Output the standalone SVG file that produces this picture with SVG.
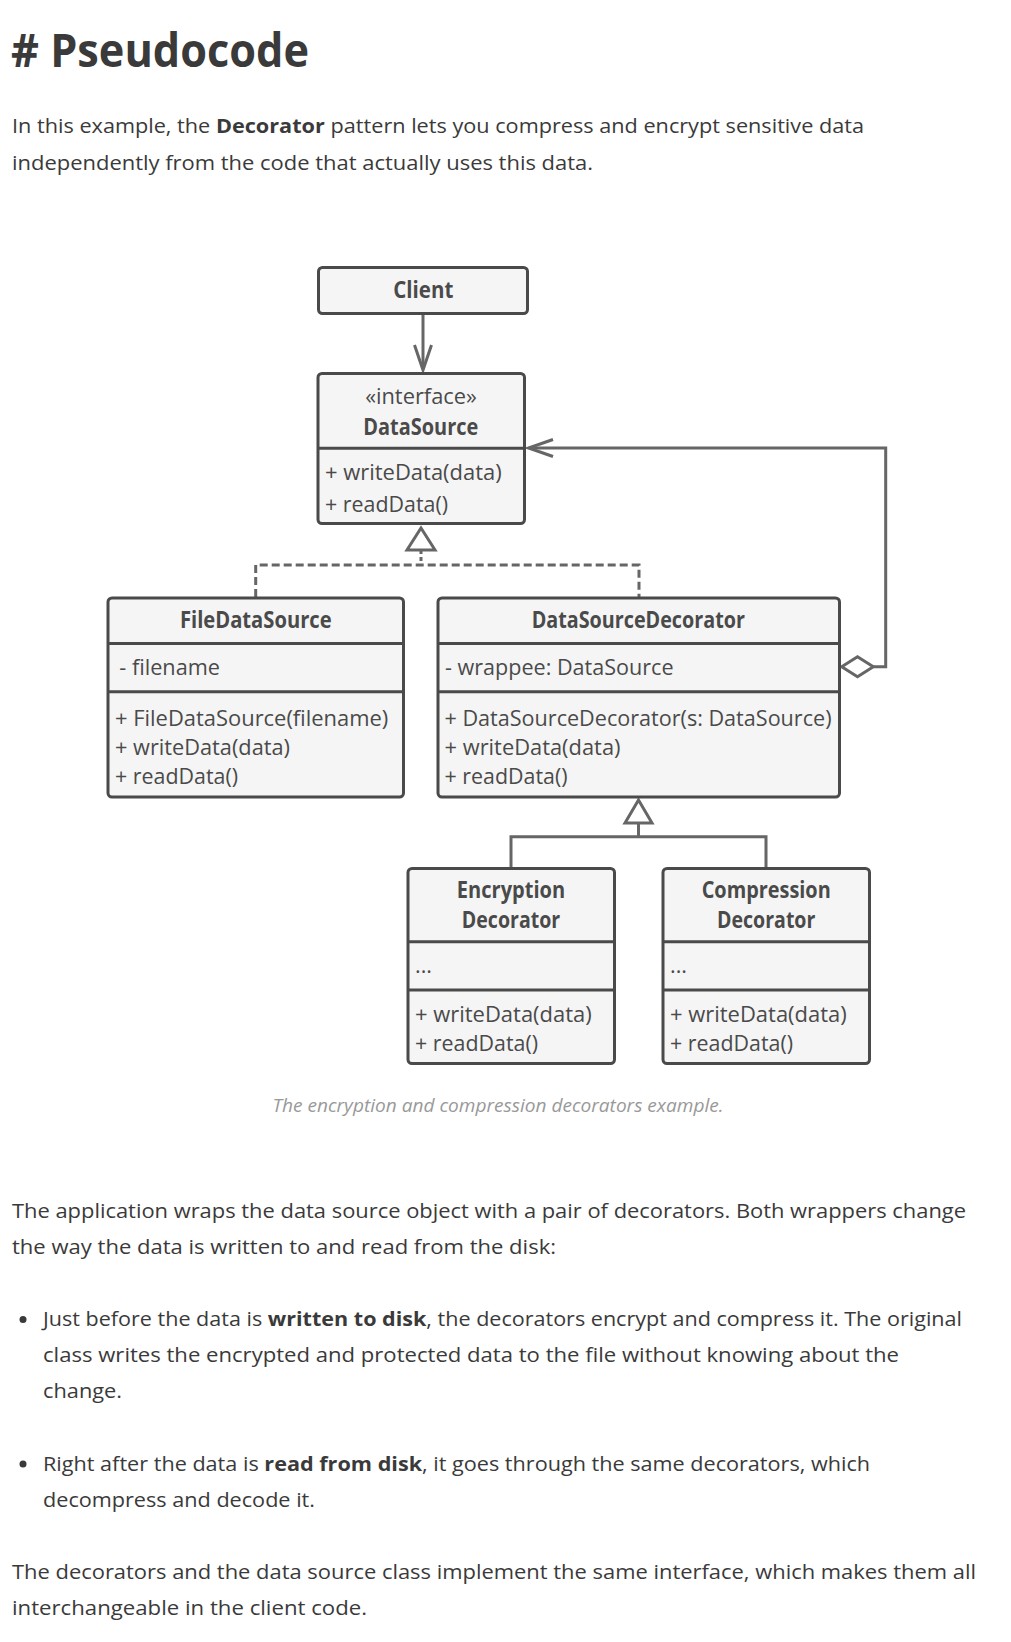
<svg xmlns="http://www.w3.org/2000/svg" width="1011" height="1642" viewBox="0 0 1011 1642">
<defs>
<style>
.body{font-family:"Open Sans","Noto Sans","DejaVu Sans",sans-serif;font-size:20px;fill:#3a3a3a}
.b{font-weight:700}
.title{font-family:"Open Sans","Noto Sans","DejaVu Sans",sans-serif;font-size:46px;font-weight:700;fill:#3a3a3a}
.box{fill:#f5f5f5;stroke:#4a4a4a;stroke-width:3}
.div{stroke:#4a4a4a;stroke-width:3}
.t{font-family:"Open Sans","Noto Sans","DejaVu Sans",sans-serif;font-size:21.5px;fill:#4a4a4a}
.h{font-weight:700;text-anchor:middle;font-size:23px}
.ln{fill:none;stroke:#666;stroke-width:3}
.dash{fill:none;stroke:#666;stroke-width:3;stroke-dasharray:8 4}
.cap{font-family:"Open Sans","Noto Sans","DejaVu Sans",sans-serif;font-size:18px;font-style:italic;fill:#999}
</style>
</defs>
<rect width="1011" height="1642" fill="#fff"/>
<text class="title" x="11" y="67" textLength="298" lengthAdjust="spacingAndGlyphs"># Pseudocode</text>
<text class="body" x="12" y="133" textLength="852" lengthAdjust="spacingAndGlyphs">In this example, the <tspan class="b">Decorator</tspan> pattern lets you compress and encrypt sensitive data</text>
<text class="body" x="12" y="169.5" textLength="581" lengthAdjust="spacingAndGlyphs">independently from the code that actually uses this data.</text>

<g id="connectors">
<path class="ln" d="M423 315V369"/>
<path class="ln" d="M414.5 345L423 370L431.5 345"/>
<path class="ln" d="M421 550V565" stroke-dasharray="4 3"/>
<path class="dash" d="M255.7 597V565H639V597"/>
<path class="ln" d="M421 528L435 550H407Z" fill="#fff"/>
<path class="ln" d="M873.3 666.7H885.7V448H529"/>
<path class="ln" d="M553 439.5L528.5 448L553 456.5"/>
<path class="ln" d="M841.7 666.7L857.5 656.7L873.3 666.7L857.5 676.7Z" fill="#fff"/>
<path class="ln" d="M638.5 823V836.7M511 867V836.7H766V867"/>
<path class="ln" d="M638.5 800L652 823H625Z" fill="#fff"/>
</g>

<g id="client">
<rect class="box" x="318.5" y="267.5" width="209" height="46" rx="4"/>
<text class="t h" x="423.3" y="298.3" textLength="60" lengthAdjust="spacingAndGlyphs">Client</text>
</g>

<g id="datasource">
<rect class="box" x="318" y="373.5" width="206.5" height="150" rx="4"/>
<path class="div" d="M318 448.3H524.5"/>
<text class="t" x="421" y="404" text-anchor="middle" textLength="111.7" lengthAdjust="spacingAndGlyphs">«interface»</text>
<text class="t h" x="420.8" y="435" textLength="115" lengthAdjust="spacingAndGlyphs">DataSource</text>
<text class="t" x="325" y="480" textLength="176.7" lengthAdjust="spacingAndGlyphs">+ writeData(data)</text>
<text class="t" x="325" y="511.7" textLength="123" lengthAdjust="spacingAndGlyphs">+ readData()</text>
</g>

<g id="filedatasource">
<rect class="box" x="108" y="598" width="295.5" height="199" rx="4"/>
<path class="div" d="M108 643.5H403.5M108 691.7H403.5"/>
<text class="t h" x="255.8" y="628.3" textLength="151.7" lengthAdjust="spacingAndGlyphs">FileDataSource</text>
<text class="t" x="119.3" y="675" textLength="100.7" lengthAdjust="spacingAndGlyphs">- filename</text>
<text class="t" x="115" y="725.5" textLength="273.3" lengthAdjust="spacingAndGlyphs">+ FileDataSource(filename)</text>
<text class="t" x="115" y="755" textLength="175" lengthAdjust="spacingAndGlyphs">+ writeData(data)</text>
<text class="t" x="115" y="784.3" textLength="123" lengthAdjust="spacingAndGlyphs">+ readData()</text>
</g>

<g id="datasourcedecorator">
<rect class="box" x="438" y="598" width="401.5" height="199" rx="4"/>
<path class="div" d="M438 643.5H839.5M438 691.7H839.5"/>
<text class="t h" x="638.3" y="628.3" textLength="213.3" lengthAdjust="spacingAndGlyphs">DataSourceDecorator</text>
<text class="t" x="445" y="675" textLength="228.5" lengthAdjust="spacingAndGlyphs">- wrappee: DataSource</text>
<text class="t" x="444.5" y="725.5" textLength="387" lengthAdjust="spacingAndGlyphs">+ DataSourceDecorator(s: DataSource)</text>
<text class="t" x="444.5" y="755" textLength="176" lengthAdjust="spacingAndGlyphs">+ writeData(data)</text>
<text class="t" x="444.5" y="784.3" textLength="123" lengthAdjust="spacingAndGlyphs">+ readData()</text>
</g>

<g id="encryptiondecorator">
<rect class="box" x="408" y="868.5" width="206.5" height="195" rx="4"/>
<path class="div" d="M408 941.7H614.5M408 990H614.5"/>
<text class="t h" x="511" y="898.3" textLength="108.3" lengthAdjust="spacingAndGlyphs">Encryption</text>
<text class="t h" x="511" y="928.3" textLength="98.3" lengthAdjust="spacingAndGlyphs">Decorator</text>
<text class="t" x="415" y="973.3">...</text>
<text class="t" x="415" y="1021.7" textLength="176.7" lengthAdjust="spacingAndGlyphs">+ writeData(data)</text>
<text class="t" x="415" y="1050.5" textLength="123" lengthAdjust="spacingAndGlyphs">+ readData()</text>
</g>

<g id="compressiondecorator">
<rect class="box" x="663" y="868.5" width="206.5" height="195" rx="4"/>
<path class="div" d="M663 941.7H869.5M663 990H869.5"/>
<text class="t h" x="766.2" y="898.3" textLength="129" lengthAdjust="spacingAndGlyphs">Compression</text>
<text class="t h" x="766.2" y="928.3" textLength="98.3" lengthAdjust="spacingAndGlyphs">Decorator</text>
<text class="t" x="670" y="973.3">...</text>
<text class="t" x="670" y="1021.7" textLength="176.7" lengthAdjust="spacingAndGlyphs">+ writeData(data)</text>
<text class="t" x="670" y="1050.5" textLength="123" lengthAdjust="spacingAndGlyphs">+ readData()</text>
</g>

<text class="cap" x="272.5" y="1111.5" textLength="451" lengthAdjust="spacingAndGlyphs">The encryption and compression decorators example.</text>

<text class="body" x="12" y="1218" textLength="954" lengthAdjust="spacingAndGlyphs">The application wraps the data source object with a pair of decorators. Both wrappers change</text>
<text class="body" x="12" y="1254" textLength="544" lengthAdjust="spacingAndGlyphs">the way the data is written to and read from the disk:</text>

<circle cx="23" cy="1319.5" r="3.5" fill="#3a3a3a"/>
<text class="body" x="43" y="1326" textLength="919" lengthAdjust="spacingAndGlyphs">Just before the data is <tspan class="b">written to disk</tspan>, the decorators encrypt and compress it. The original</text>
<text class="body" x="43" y="1362" textLength="856" lengthAdjust="spacingAndGlyphs">class writes the encrypted and protected data to the file without knowing about the</text>
<text class="body" x="43" y="1398" textLength="79" lengthAdjust="spacingAndGlyphs">change.</text>

<circle cx="23" cy="1464" r="3.5" fill="#3a3a3a"/>
<text class="body" x="43" y="1470.5" textLength="827" lengthAdjust="spacingAndGlyphs">Right after the data is <tspan class="b">read from disk</tspan>, it goes through the same decorators, which</text>
<text class="body" x="43" y="1506.5" textLength="272" lengthAdjust="spacingAndGlyphs">decompress and decode it.</text>

<text class="body" x="12" y="1578.5" textLength="964" lengthAdjust="spacingAndGlyphs">The decorators and the data source class implement the same interface, which makes them all</text>
<text class="body" x="12" y="1614.5" textLength="355" lengthAdjust="spacingAndGlyphs">interchangeable in the client code.</text>
</svg>
